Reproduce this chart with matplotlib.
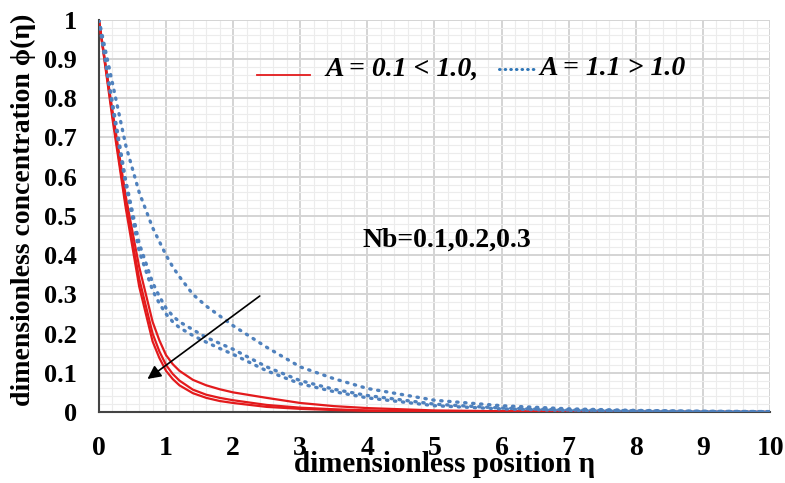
import matplotlib
matplotlib.use('Agg')
import matplotlib.pyplot as plt
import matplotlib.patches as patches
import numpy as np

plt.rcParams['font.family'] = ['Liberation Serif', 'DejaVu Serif']

# position eta where values were read
eta = [0, 0.2, 0.4, 0.6, 0.8, 0.9, 1.0, 1.1, 1.2, 1.4, 1.6, 1.8, 2.0, 2.5, 3.0, 3.5, 4.0, 5.0, 6.0, 7.0, 8.0, 9.0, 10.0]

# A = 0.1 (solid red), Nb = 0.1, 0.2, 0.3
red_nb1 = [1.0, 0.77, 0.55, 0.37, 0.23, 0.183, 0.145, 0.122, 0.105, 0.082, 0.068, 0.058, 0.050, 0.036, 0.023, 0.015, 0.010, 0.004, 0.002, 0.001, 0.0005, 0.0002, 0.0]
red_nb2 = [1.0, 0.76, 0.53, 0.34, 0.20, 0.155, 0.120, 0.097, 0.080, 0.057, 0.044, 0.036, 0.030, 0.018, 0.011, 0.007, 0.004, 0.002, 0.001, 0.0005, 0.0002, 0.0, 0.0]
red_nb3 = [1.0, 0.75, 0.52, 0.32, 0.18, 0.138, 0.105, 0.084, 0.068, 0.048, 0.036, 0.028, 0.023, 0.013, 0.008, 0.005, 0.003, 0.001, 0.0005, 0.0002, 0.0, 0.0, 0.0]

# A = 1.1 (dotted blue), Nb = 0.1, 0.2, 0.3
blue_nb1 = [1.0, 0.84, 0.68, 0.56, 0.47, 0.435, 0.40, 0.37, 0.345, 0.30, 0.27, 0.245, 0.22, 0.165, 0.115, 0.085, 0.060, 0.030, 0.016, 0.008, 0.004, 0.002, 0.001]
blue_nb2 = [1.0, 0.79, 0.59, 0.43, 0.33, 0.295, 0.265, 0.245, 0.23, 0.21, 0.19, 0.175, 0.16, 0.115, 0.080, 0.058, 0.042, 0.020, 0.010, 0.005, 0.003, 0.0015, 0.001]
blue_nb3 = [1.0, 0.78, 0.58, 0.41, 0.31, 0.277, 0.25, 0.23, 0.215, 0.195, 0.178, 0.162, 0.147, 0.105, 0.072, 0.052, 0.036, 0.016, 0.008, 0.004, 0.002, 0.001, 0.0005]

x_ticks = np.arange(0, 11, 1)
y_ticks = np.round(np.arange(0, 1.01, 0.1), 1)
y_ticklabels = ['0'] + [f'{v:.1f}' for v in y_ticks[1:-1]] + ['1']

fig = plt.figure(figsize=(7.85, 4.83), dpi=100)
ax = fig.add_axes([0.126, 0.147, 0.855, 0.812])

ax.set_xlim(0, 10)
ax.set_ylim(0, 1)
ax.set_xticks(x_ticks)
ax.set_xticks(np.arange(0, 10.01, 0.2), minor=True)
ax.set_yticks(y_ticks)
ax.set_yticks(np.arange(0, 1.001, 0.02), minor=True)
ax.grid(which='major', color='#d4d4d4', linewidth=1.4, zorder=0)
ax.grid(which='minor', color='#ececec', linewidth=0.8, zorder=0)
ax.tick_params(which='both', length=0)
ax.set_xticklabels([str(v) for v in x_ticks], fontsize=20, fontweight='bold')
ax.set_yticklabels(y_ticklabels, fontsize=19, fontweight='bold')
ax.tick_params(axis='x', pad=17)
ax.tick_params(axis='y', pad=16)

for s in ['top', 'right']:
    ax.spines[s].set_visible(False)
for s in ['left', 'bottom']:
    ax.spines[s].set_color('#444444')
    ax.spines[s].set_linewidth(1.5)

# white text boxes covering the grid
ax.add_patch(patches.Rectangle((2.03, 0.80), 7.8, 0.16, facecolor='white', edgecolor='none', zorder=1))
ax.add_patch(patches.Rectangle((3.6, 0.34), 3.3, 0.165, facecolor='white', edgecolor='none', zorder=1))

for y in [red_nb1, red_nb2, red_nb3]:
    ax.plot(eta, y, color='#e31a1c', linewidth=1.6, zorder=3)
for y in [blue_nb1, blue_nb2, blue_nb3]:
    ax.plot(eta, y, color='#4f81bd', linewidth=2.4, linestyle=(0, (0.4, 2.0)),
            dash_capstyle='round', zorder=3)

# legend-like annotation
ax.plot([2.35, 3.15], [0.86, 0.86], color='#e31a1c', linewidth=1.3, zorder=3)
ax.text(3.38, 0.875, 'A = 0.1 < 1.0,', fontsize=20, fontweight='bold', fontstyle='italic',
        va='center', ha='left', zorder=4)
ax.text(5.93, 0.882, '.......', fontsize=16, fontweight='bold', color='#2e75b6',
        va='center', ha='left', zorder=4)
ax.text(6.57, 0.875, 'A = 1.1 > 1.0', fontsize=20, fontweight='bold', fontstyle='italic',
        va='center', ha='left', zorder=4)

ax.text(3.93, 0.438, 'Nb=0.1,0.2,0.3', fontsize=20, fontweight='bold', va='center', ha='left', zorder=4)

ax.annotate('', xy=(0.69, 0.08), xytext=(2.43, 0.30),
            arrowprops=dict(arrowstyle='-|>', color='black', lw=1.2, mutation_scale=20), zorder=5)

ax.set_xlabel('dimensionless position η', fontsize=21, fontweight='bold')
ax.set_ylabel('dimensionless concentration ϕ(η)', fontsize=20, fontweight='bold')
ax.xaxis.set_label_coords(0.515, -0.1)
ax.yaxis.set_label_coords(-0.093, 0.515)

fig.savefig('out.png', dpi=100)
